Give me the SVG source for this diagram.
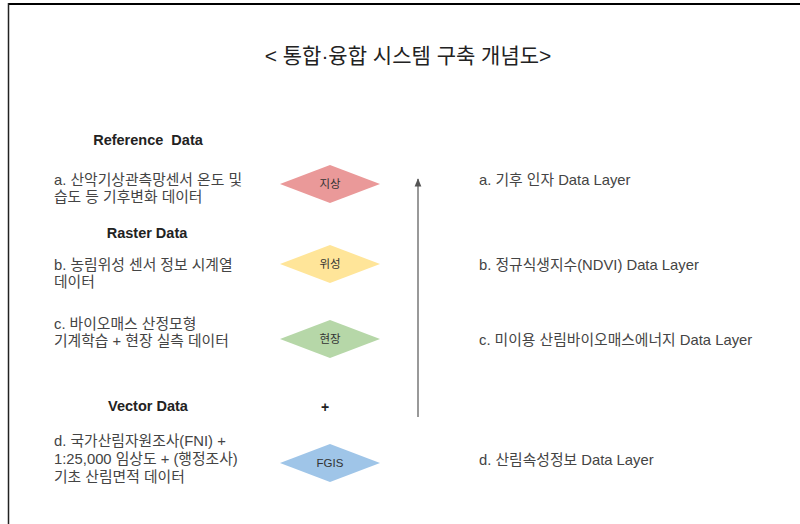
<svg xmlns="http://www.w3.org/2000/svg" width="800" height="524" viewBox="0 0 800 524">
<style>
text{font-family:"Liberation Sans","Noto Sans CJK KR",sans-serif;fill:#444;white-space:pre}
.t{font-size:14.8px}
.h{font-size:14.5px;font-weight:bold;fill:#222;text-anchor:middle}
.d{font-size:11.5px;text-anchor:middle;fill:#333}
.ttl{font-size:21px;text-anchor:middle;fill:#222}
.con{stroke:#555;stroke-width:1.2;fill:none}
</style>
<defs>
<marker id="ah" viewBox="0 0 10 10" refX="9" refY="5" markerWidth="7" markerHeight="7" orient="auto">
<path d="M0,1 L10,5 L0,9 Z" fill="#555"/>
</marker>
</defs>
<rect width="800" height="524" fill="#fff"/>
<g id="frame">
<line x1="8" y1="4" x2="800" y2="4" stroke="#000" stroke-width="2"/>
<line x1="8.5" y1="3" x2="8.5" y2="524" stroke="#222" stroke-width="1.5"/>
</g>
<g id="title"><text class="ttl" x="408" y="63">&lt; 통합·융합 시스템 구축 개념도&gt;</text></g>
<g id="left-labels">
<text class="h" x="148" y="145">Reference  Data</text>
<text class="t" x="54" y="185">a. 산악기상관측망센서 온도 및</text>
<text class="t" x="54" y="202">습도 등 기후변화 데이터</text>
<text class="h" x="147" y="238">Raster Data</text>
<text class="t" x="54" y="270">b. 농림위성 센서 정보 시계열</text>
<text class="t" x="54" y="287">데이터</text>
<text class="t" x="54" y="329">c. 바이오매스 산정모형</text>
<text class="t" x="54" y="346">기계학습 + 현장 실측 데이터</text>
<text class="h" x="148" y="411">Vector Data</text>
<text class="t" x="54" y="446">d. 국가산림자원조사(FNI) +</text>
<text class="t" x="54" y="464">1:25,000 임상도 + (행정조사)</text>
<text class="t" x="54" y="482">기초 산림면적 데이터</text>
</g>
<g id="node-jisang">
<polygon points="280,184 330,165 380,184 330,203" fill="#ea9999"/>
<text class="d" x="330" y="188">지상</text>
</g>
<g id="node-wiseong">
<polygon points="280,264 330,245 380,264 330,283" fill="#ffe599"/>
<text class="d" x="330" y="268">위성</text>
</g>
<g id="node-hyeonjang">
<polygon points="280,339 330,320 380,339 330,358" fill="#b6d7a8"/>
<text class="d" x="330" y="343">현장</text>
</g>
<g id="plus"><text x="325" y="412" style="font-size:14px;font-weight:bold;text-anchor:middle;fill:#222">+</text></g>
<g id="node-fgis">
<polygon points="280,463 330,444 380,463 330,482" fill="#9fc5e8"/>
<text class="d" x="330" y="467">FGIS</text>
</g>
<g id="connectors">
<line class="con" x1="418" y1="417" x2="418" y2="179" marker-end="url(#ah)"/>
</g>
<g id="right-labels">
<text class="t" x="479" y="185">a. 기후 인자 Data Layer</text>
<text class="t" x="479" y="270">b. 정규식생지수(NDVI) Data Layer</text>
<text class="t" x="479" y="345">c. 미이용 산림바이오매스에너지 Data Layer</text>
<text class="t" x="479" y="465">d. 산림속성정보 Data Layer</text>
</g>
</svg>
